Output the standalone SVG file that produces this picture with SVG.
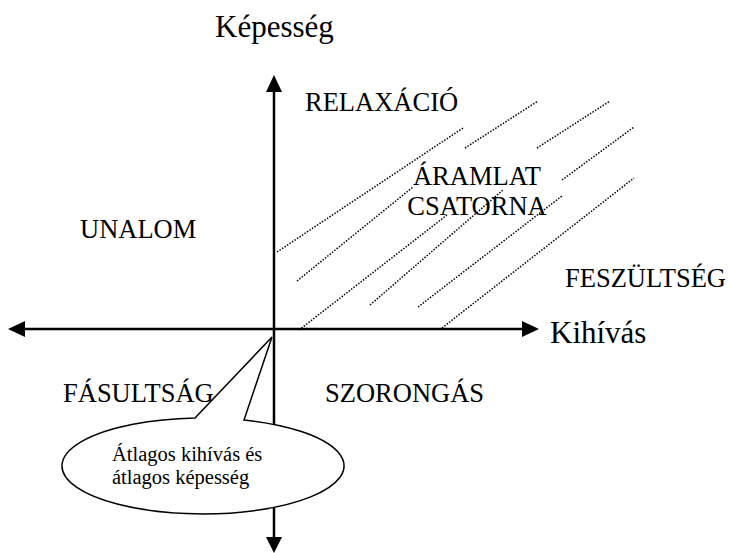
<svg xmlns="http://www.w3.org/2000/svg" width="729" height="553" viewBox="0 0 729 553">
<defs>
<style>
text{font-family:"Liberation Serif","Times New Roman",serif;fill:#000}
.lbl{font-size:26.5px}
.ax{font-size:31px}
.cl{font-size:20.5px}
.axis{stroke:#000;stroke-width:2.5;fill:none}
.dot{stroke:#000;stroke-width:1.5;stroke-dasharray:1.5 1.5;fill:none}
.head{fill:#000}
</style>
</defs>
<rect width="729" height="553" fill="#fff"/>
<g id="connectors">
<line class="axis" x1="274" y1="88" x2="274" y2="541"/>
<polygon class="head" points="274,75 266,92 282,92"/>
<polygon class="head" points="274,553 266,537 282,537"/>
<line class="axis" x1="22" y1="329" x2="526" y2="329"/>
<polygon class="head" points="8,329 25,321 25,337"/>
<polygon class="head" points="539,329 522,321 522,337"/>
</g>
<g id="flow-channel">
<line class="dot" x1="277" y1="252" x2="463" y2="128"/>
<line class="dot" x1="297" y1="281" x2="413" y2="187"/>
<line class="dot" x1="465" y1="148" x2="538" y2="101"/>
<line class="dot" x1="537" y1="148" x2="610" y2="101"/>
<line class="dot" x1="299" y1="330" x2="447" y2="215"/>
<line class="dot" x1="370" y1="305" x2="503" y2="190"/>
<line class="dot" x1="418" y1="307" x2="562" y2="196"/>
<line class="dot" x1="562" y1="180" x2="634" y2="127"/>
<line class="dot" x1="442" y1="328" x2="634" y2="178"/>
</g>
<g id="axis-labels">
<text class="ax" x="215" y="37">Képesség</text>
<text class="ax" x="550" y="343">Kihívás</text>
</g>
<g id="regions">
<text class="lbl" x="305" y="111">RELAXÁCIÓ</text>
<text class="lbl" x="477" y="185" text-anchor="middle">ÁRAMLAT</text>
<text class="lbl" x="477" y="215" text-anchor="middle">CSATORNA</text>
<text class="lbl" x="80" y="238">UNALOM</text>
<text class="lbl" x="565" y="287">FESZÜLTSÉG</text>
<text class="lbl" x="63" y="402">FÁSULTSÁG</text>
<text class="lbl" x="325" y="402">SZORONGÁS</text>
</g>
<g id="callout">
<path d="M195,418 L272,337 L244,420 A141,48 0 1 1 195,418 Z" fill="#fff" stroke="#000" stroke-width="1.5" stroke-linejoin="miter"/>
<text class="cl" x="112" y="461">Átlagos kihívás és</text>
<text class="cl" x="112" y="484">átlagos képesség</text>
</g>
</svg>
